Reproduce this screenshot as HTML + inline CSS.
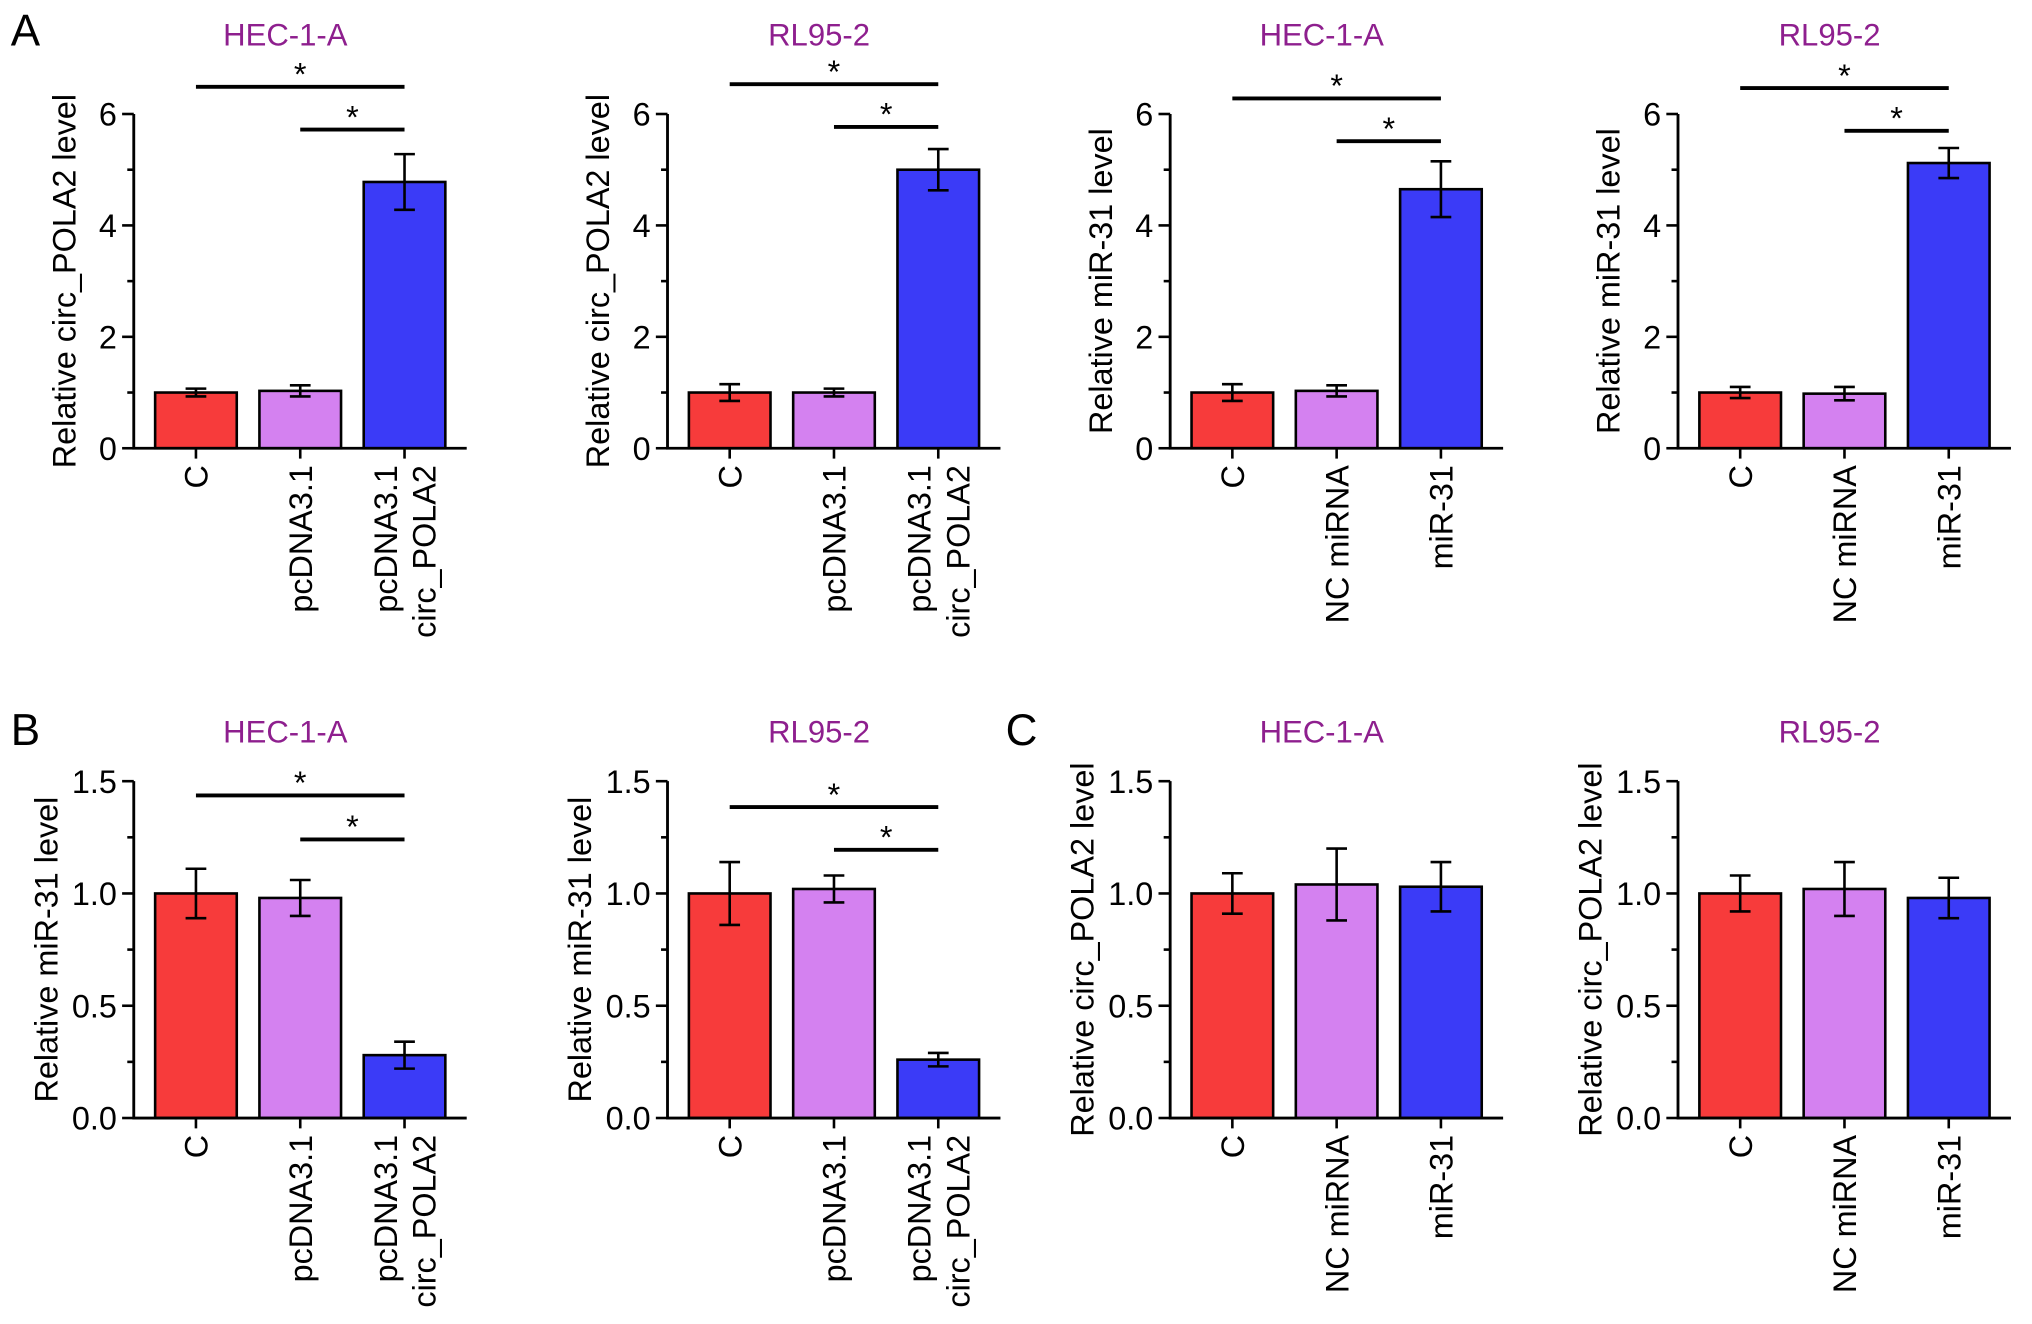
<!DOCTYPE html>
<html><head><meta charset="utf-8"><style>
html,body{margin:0;padding:0;background:#fff;}
svg{display:block;font-family:"Liberation Sans",Arial,sans-serif;}
</style></head><body>
<svg id="fig" width="2032" height="1324" viewBox="0 0 1568 1022" xmlns="http://www.w3.org/2000/svg"></svg>
<script>
// ---- data ----
const titles = ["HEC-1-A","RL95-2","HEC-1-A","RL95-2","HEC-1-A","RL95-2","HEC-1-A","RL95-2"];
const yTitles = ["Relative circ_POLA2 level","Relative circ_POLA2 level","Relative miR-31 level","Relative miR-31 level","Relative miR-31 level","Relative miR-31 level","Relative circ_POLA2 level","Relative circ_POLA2 level"];
const catsA = [["C"],["pcDNA3.1"],["pcDNA3.1","circ_POLA2"]];
const catsB = [["C"],["NC miRNA"],["miR-31"]];
const panelCats = [catsA,catsA,catsB,catsB,catsA,catsA,catsB,catsB];
const means = [[1.0,1.03,4.78],[1.0,1.0,5.0],[1.0,1.03,4.65],[1.0,0.98,5.12],
               [1.0,0.98,0.28],[1.0,1.02,0.26],[1.0,1.04,1.03],[1.0,1.02,0.98]];
const errs  = [[0.07,0.1,0.5],[0.15,0.07,0.37],[0.15,0.1,0.5],[0.1,0.12,0.27],
               [0.11,0.08,0.06],[0.14,0.06,0.03],[0.09,0.16,0.11],[0.08,0.12,0.09]];
const ticksTop = [0,2,4,6];
const tickLabelsTop = ["0","2","4","6"];
const ticksBot = [0,0.5,1.0,1.5];
const tickLabelsBot = ["0.0","0.5","1.0","1.5"];
const sigPanels = [0,1,2,3,4,5];
const sigLongY = [67,65,76,68,614,623];
const sigShortY = [100,98,109,101,648,656];
const colors = ["#F73B3B","#D481F0","#3B3BF7"];

const NS="http://www.w3.org/2000/svg";
const svg=document.getElementById('fig');
function el(tag,attrs,parent){const e=document.createElementNS(NS,tag);for(const k in attrs)e.setAttribute(k,attrs[k]);(parent||svg).appendChild(e);return e;}
function txt(s,attrs,parent){const t=el('text',attrs,parent);t.textContent=s;return t;}

const axX=[103,515,903,1295,103,515,903,1295];
const FS=25;
function mkPanel(i){
  const top=i<4;
  const y0=top?346:863, yMax=top?6:1.5, yTop=top?88:603;
  const ys=v=>y0-(v/yMax)*(y0-yTop);
  const ax=axX[i];
  const xs=k=>ax+48+k*80.5;
  const g=el('g',{});
  
  
  const tt=txt(titles[i],{x:ax+117,y:top?35:573,'font-size':24,fill:'#8E1F8E','text-anchor':'middle'},g);
  
  
  means[i].forEach((m,k)=>{
    const r=el('rect',{x:xs(k)-31.5,y:ys(m),width:63,height:y0-ys(m),fill:colors[k],stroke:'#000','stroke-width':2},g);
    
    
    const e=errs[i][k],cx=xs(k);
    const eb=el('path',{d:`M${cx},${ys(m+e)}V${ys(m-e)}M${cx-8},${ys(m+e)}H${cx+8}M${cx-8},${ys(m-e)}H${cx+8}`,stroke:'#000','stroke-width':2,fill:'none'},g);
    
    
    el('line',{x1:cx,y1:y0,x2:cx,y2:y0+8,stroke:'#000','stroke-width':2},g);
    const lines=panelCats[i][k];
    const lg=el('text',{transform:`translate(${cx},${y0+13}) rotate(-90)`,'font-size':FS,'text-anchor':'end'},g);
    
    
    lines.forEach((s,j)=>{const ts=el('tspan',{x:0,y:(lines.length===1?9:-6+j*30)},lg);ts.textContent=s;});
  });
  const axis=el('path',{d:`M${ax},${yTop}V${y0}H${ax+257}`,stroke:'#000','stroke-width':2.2,fill:'none'},g);
  
  
  const tv=top?ticksTop:ticksBot, tl=top?tickLabelsTop:tickLabelsBot;
  tv.forEach((v,j)=>{
    el('line',{x1:ax-9,y1:ys(v),x2:ax,y2:ys(v),stroke:'#000','stroke-width':2},g);
    const t=txt(tl[j],{x:ax-13,y:ys(v)+9,'font-size':FS,'text-anchor':'end'},g);
    
    
    if(j<tv.length-1){const mv=(v+tv[j+1])/2;el('line',{x1:ax-5,y1:ys(mv),x2:ax,y2:ys(mv),stroke:'#000','stroke-width':2},g);}
  });
  const yt=txt(yTitles[i],{transform:`translate(${ax-(top?45:59)},${(y0+yTop)/2}) rotate(-90)`,'font-size':FS,'text-anchor':'middle'},g);
  
  
  const si=sigPanels.indexOf(i);
  if(si>=0){
    [[xs(0),sigLongY[si]],[xs(1),sigShortY[si]]].forEach(([x1,y])=>{
      const l=el('line',{x1:x1,y1:y,x2:xs(2),y2:y,stroke:'#000','stroke-width':3},g);
      
      
      const s=txt('*',{x:(x1+xs(2))/2,y:y-1,'font-size':25,'text-anchor':'middle'},g);
      
      
    });
  }
}
for(let i=0;i<8;i++)mkPanel(i);
[["A",8,35],["B",8,575],["C",776,575]].forEach(([s,x,y])=>{
  const t=txt(s,{x:x,y:y,'font-size':34});
  
  
});
</script>
</body></html>
